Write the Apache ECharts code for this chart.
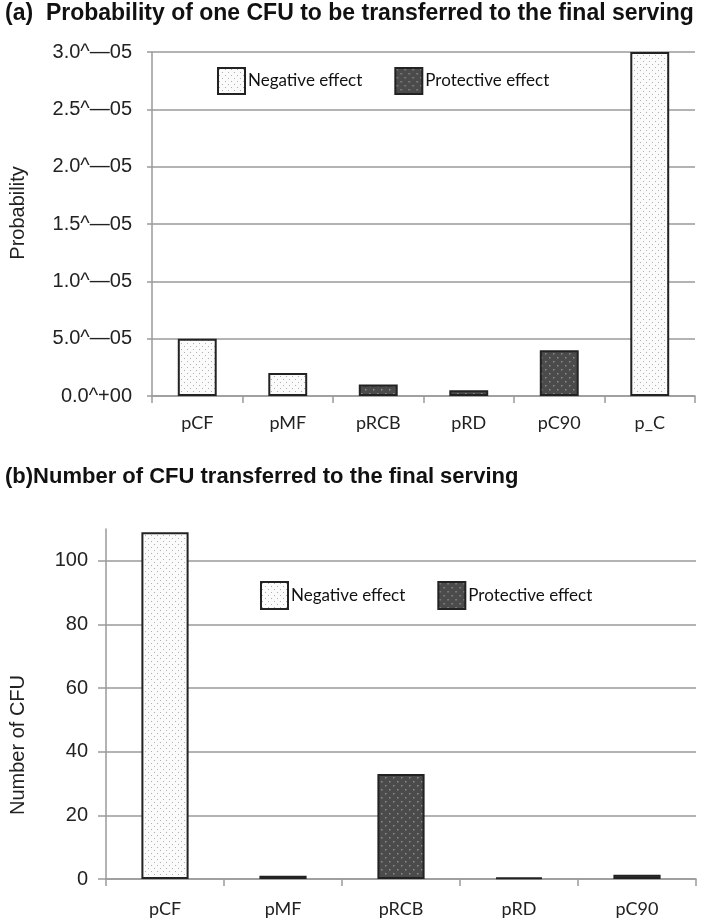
<!DOCTYPE html>
<html>
<head>
<meta charset="utf-8">
<script src="https://cdn.jsdelivr.net/npm/echarts@6/dist/echarts.min.js"></script>
<style>
  html, body { margin: 0; padding: 0; background: #fff; }
  #main { width: 709px; height: 924px; }
</style>
</head>
<body>
<div id="main"></div>
<script>
// (a) probability of one CFU being transferred
var probCategories = ['pCF', 'pMF', 'pRCB', 'pRD', 'pC90', 'p_C'];
var probValues = [5.0e-6, 2.0e-6, 1.0e-6, 0.5e-6, 4.0e-6, 3.0e-5];
var probEffect = ['neg', 'neg', 'pro', 'pro', 'pro', 'neg'];
var probTicks = ['0.0^+00', '5.0^\u201405', '1.0^\u201405', '1.5^\u201405', '2.0^\u201405', '2.5^\u201405', '3.0^\u201405'];

// (b) number of CFU transferred
var cfuCategories = ['pCF', 'pMF', 'pRCB', 'pRD', 'pC90'];
var cfuValues = [109, 1.0, 33, 0.4, 1.3];
var cfuEffect = ['neg', 'neg', 'pro', 'pro', 'pro'];

var legendNames = ['Negative effect', 'Protective effect'];

function dotPattern(bg, dot, size, r) {
    var c = document.createElement('canvas');
    c.width = size; c.height = size;
    var ctx = c.getContext('2d');
    ctx.fillStyle = bg;
    ctx.fillRect(0, 0, size, size);
    ctx.fillStyle = dot;
    ctx.fillRect(1, 1, r, r);
    ctx.fillRect(1 + size / 2, 1 + size / 2, r, r);
    return { image: c, repeat: 'repeat' };
}
var negFill = dotPattern('#fbfbfb', '#b0b0b0', 6, 1);
var proFill = dotPattern('#4b4b4b', '#8c8c8c', 8, 1.5);

function pick(values, effect, which) {
    return values.map(function (v, i) { return effect[i] === which ? v : '-'; });
}

var gridColor = '#9a9a9a';
var tickFont = { color: '#222', fontFamily: 'Liberation Sans', fontSize: 20 };
var titleFont = { fontFamily: 'Liberation Sans', fontWeight: 'bold', fontSize: 22, color: '#111' };

function catFont(margin) {
    return { color: '#222', fontFamily: 'Lato', fontSize: 18, margin: margin };
}

function barSeries(name, data, fill, xi, width) {
    return {
        name: name,
        type: 'bar',
        xAxisIndex: xi,
        yAxisIndex: xi,
        data: data,
        barWidth: width,
        barGap: '-100%',
        itemStyle: { color: fill, borderColor: '#222', borderWidth: 2 }
    };
}

function legendAt(left, top, h) {
    return {
        data: legendNames,
        left: left, top: top, padding: 0,
        itemWidth: 27, itemHeight: h, itemGap: 32,
        icon: 'rect',
        textStyle: { fontFamily: 'Lato', fontSize: 17, color: '#111', padding: [0, 0, 0, -2] }
    };
}

var myChart = echarts.init(document.getElementById('main'));
var option = {
    animation: false,
    title: [{
        text: '{n|(a)}  Probability of one CFU to be transferred to the final serving',
        left: 0, top: -3,
        textStyle: Object.assign({}, titleFont, {
            fontSize: 23,
            rich: { n: { fontFamily: 'Liberation Sans', fontSize: 23, color: '#111' } }
        })
    }, {
        text: '(b)Number of CFU transferred to the final serving',
        left: 0, top: 461,
        textStyle: titleFont
    }],
    legend: [legendAt(217, 67, 26), legendAt(260, 581, 27)],
    grid: [
        { left: 147, right: 14, top: 52, bottom: 528, containLabel: false },
        { left: 104, right: 13, top: 529, bottom: 45, containLabel: false }
    ],
    xAxis: [{
        type: 'category', gridIndex: 0, data: probCategories,
        axisLine: { lineStyle: { color: gridColor, width: 1.5 } },
        axisTick: { show: true, length: 7, lineStyle: { color: gridColor, width: 1.5 } },
        axisLabel: catFont(18)
    }, {
        type: 'category', gridIndex: 1, data: cfuCategories,
        axisLine: { lineStyle: { color: gridColor, width: 1.5 } },
        axisTick: { show: true, length: 7, lineStyle: { color: gridColor, width: 1.5 } },
        axisLabel: catFont(21)
    }],
    yAxis: [{
        type: 'value', gridIndex: 0, min: 0, max: 3.0e-5, interval: 5e-6,
        name: 'Probability', nameLocation: 'middle', nameGap: 124,
        nameTextStyle: { fontFamily: 'Liberation Sans', fontSize: 20, color: '#222', padding: [0, 0, 0, 22] },
        axisLine: { show: true, lineStyle: { color: gridColor, width: 1.5 } },
        axisTick: { show: true, length: 5, lineStyle: { color: gridColor, width: 1.5 } },
        splitLine: { lineStyle: { color: gridColor, width: 1.5 } },
        axisLabel: Object.assign({ margin: 20, formatter: function (v) {
            return probTicks[Math.round(v / 5e-6)];
        } }, tickFont)
    }, {
        type: 'value', gridIndex: 1, min: 0, max: 110, interval: 20,
        name: 'Number of CFU', nameLocation: 'middle', nameGap: 78,
        nameTextStyle: { fontFamily: 'Liberation Sans', fontSize: 20, color: '#222', padding: [0, 82, 0, 0] },
        axisLine: { show: true, lineStyle: { color: gridColor, width: 1.5 } },
        axisTick: { show: true, length: 8, lineStyle: { color: gridColor, width: 1.5 } },
        splitLine: { lineStyle: {
            color: [gridColor, gridColor, gridColor, gridColor, gridColor, gridColor, 'rgba(0,0,0,0)'],
            width: 1.5 } },
        axisLabel: Object.assign({ margin: 18, showMaxLabel: false }, tickFont)
    }],
    series: [
        barSeries(legendNames[0], pick(probValues, probEffect, 'neg'), negFill, 0, '43%'),
        barSeries(legendNames[1], pick(probValues, probEffect, 'pro'), proFill, 0, '43%'),
        barSeries(legendNames[0], pick(cfuValues, cfuEffect, 'neg'), negFill, 1, '40%'),
        barSeries(legendNames[1], pick(cfuValues, cfuEffect, 'pro'), proFill, 1, '40%')
    ]
};
myChart.setOption(option);
</script>
</body>
</html>
